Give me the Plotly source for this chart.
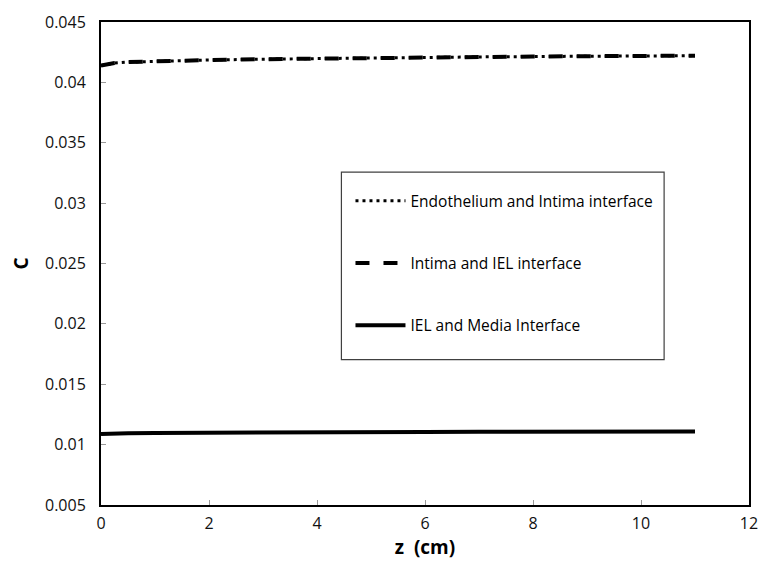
import plotly.graph_objects as go

# Axial position along the vessel (cm)
z_cm = [0, 0.1, 0.25, 0.5, 1, 2, 3, 4, 5, 6, 7, 8, 9, 10, 11]

# Concentration at each interface
c_endo_intima = [0.04140, 0.04150, 0.04160, 0.04168, 0.04175, 0.04185, 0.04192,
                 0.04198, 0.04203, 0.04207, 0.04211, 0.04214, 0.04217, 0.04219, 0.04221]
c_intima_iel = [0.04140, 0.04150, 0.04160, 0.04168, 0.04175, 0.04185, 0.04192,
                0.04198, 0.04203, 0.04207, 0.04211, 0.04214, 0.04217, 0.04219, 0.04221]
c_iel_media = [0.01088, 0.01090, 0.01093, 0.01095, 0.01097, 0.01100, 0.01101,
               0.01103, 0.01104, 0.01105, 0.01106, 0.01107, 0.01108, 0.01108, 0.01109]

x_ticks = [0, 2, 4, 6, 8, 10, 12]
y_ticks = [0.005, 0.01, 0.015, 0.02, 0.025, 0.03, 0.035, 0.04, 0.045]
y_tick_text = ["0.005", "0.01", "0.015", "0.02", "0.025", "0.03", "0.035", "0.04", "0.045"]

FONT = "Open Sans"

fig = go.Figure()
fig.add_trace(go.Scatter(
    x=z_cm, y=c_endo_intima, mode="lines", name="Endothelium and Intima interface",
    line=dict(color="black", width=3, dash="3px,4px"), legendgroup="a"))
fig.add_trace(go.Scatter(
    x=z_cm, y=c_intima_iel, mode="lines", name="Intima and IEL interface",
    line=dict(color="black", width=4, dash="14px,14px"), legendgroup="b"))
fig.add_trace(go.Scatter(
    x=z_cm, y=c_iel_media, mode="lines", name="IEL and Media Interface",
    line=dict(color="black", width=4), legendgroup="c"))

fig.update_layout(
    width=769, height=565,
    margin=dict(l=101, r=11, t=17, b=59),
    paper_bgcolor="white", plot_bgcolor="white",
    font=dict(family=FONT, color="black", size=14),
    showlegend=True,
    legend=dict(
        x=0.385, y=0.664, xanchor="left", yanchor="top",
        bgcolor="rgba(0,0,0,0)", borderwidth=0,
        tracegroupgap=39, itemwidth=50,
        font=dict(family=FONT, size=15.5, color="black"),
    ),
    shapes=[dict(type="rect", xref="paper", yref="paper",
                 x0=0.371, x1=0.869, y0=0.301, y1=0.689,
                 line=dict(color="#404040", width=1.2), fillcolor="rgba(0,0,0,0)")],
)

fig.update_xaxes(
    range=[0, 12], tickvals=x_ticks, ticks="inside", ticklen=5, tickcolor="#999",
    showline=True, linecolor="black", linewidth=2, mirror=True,
    showgrid=False, zeroline=False, ticklabelstandoff=3,
    tickfont=dict(family=FONT, size=16, color="#111"),
    title=dict(text="<b>z  (cm)</b>", font=dict(family=FONT, size=19, color="black"), standoff=6),
)
fig.update_yaxes(
    range=[0.005, 0.045], tickvals=y_ticks, ticktext=y_tick_text,
    ticks="inside", ticklen=5, tickcolor="#999",
    showline=True, linecolor="black", linewidth=2, mirror=True,
    showgrid=False, zeroline=False, ticklabelstandoff=10,
    tickfont=dict(family=FONT, size=16, color="#111"),
    title=dict(text="<b>C</b>", font=dict(family=FONT, size=19, color="black"), standoff=11),
)

fig.write_html("out.html")
